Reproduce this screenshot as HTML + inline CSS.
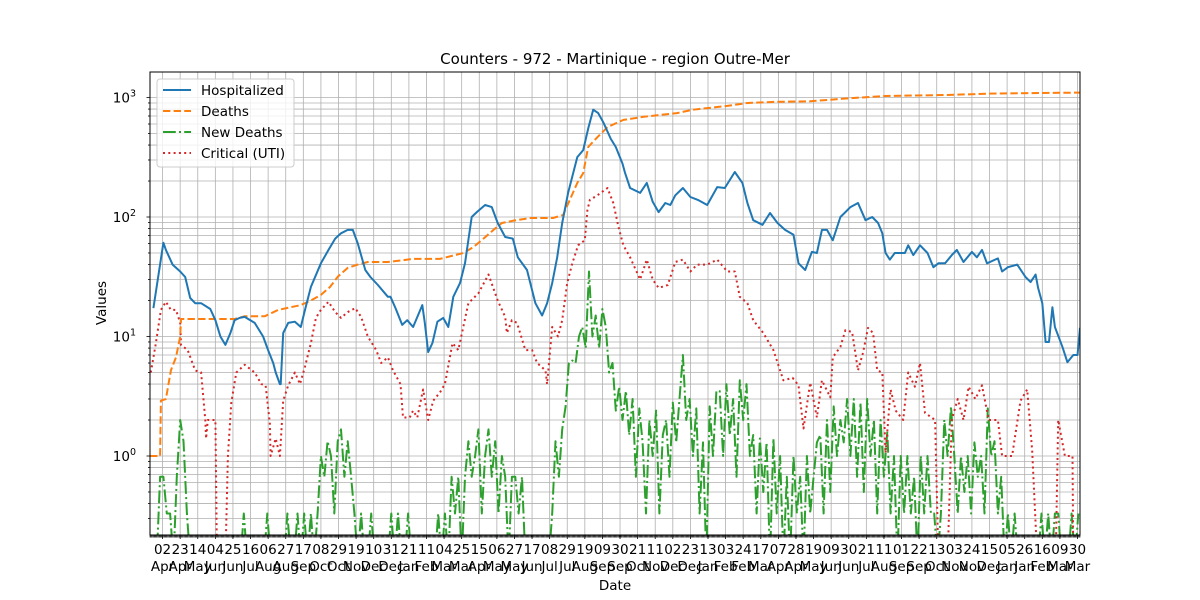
<!DOCTYPE html>
<html><head><meta charset="utf-8"><style>
body{margin:0;background:#fff;}
svg{display:block;font-family:"DejaVu Sans","Liberation Sans",sans-serif;}
</style></head><body>
<svg id="chart" width="1200" height="600" viewBox="0 0 1200 600" xmlns="http://www.w3.org/2000/svg">
<rect width="1200" height="600" fill="#fff"/>
<defs><clipPath id="pc"><rect x="150" y="72" width="930" height="463"/></clipPath></defs>
<g id="grid"></g>
<g id="series" clip-path="url(#pc)"></g>
<rect x="150" y="72" width="930" height="463" fill="none" stroke="#000" stroke-width="1"/>
<g id="axes"></g>
<text x="615" y="64" text-anchor="middle" font-size="15">Counters - 972 - Martinique - region Outre-Mer</text>
<text x="615" y="590" text-anchor="middle" font-size="13.5">Date</text>
<text x="106" y="303" text-anchor="middle" font-size="13.5" transform="rotate(-90 106 303)">Values</text>
<g>
<rect x="157" y="79" width="137" height="88" rx="3" fill="#fff" fill-opacity="0.8" stroke="#ccc"/>
<g><line x1="163" y1="90" x2="191" y2="90" stroke="#1f77b4" stroke-width="2"/><text x="201" y="95" font-size="13.5">Hospitalized</text></g>
<g><line x1="163" y1="111" x2="191" y2="111" stroke="#ff7f0e" stroke-width="2" stroke-dasharray="7.4,3.2"/><text x="201" y="116" font-size="13.5">Deaths</text></g>
<g><line x1="163" y1="132" x2="191" y2="132" stroke="#2ca02c" stroke-width="2" stroke-dasharray="12.8,3.2,2,3.2"/><text x="201" y="137" font-size="13.5">New Deaths</text></g>
<g><line x1="163" y1="153" x2="191" y2="153" stroke="#d62728" stroke-width="2" stroke-dasharray="2,3.3"/><text x="201" y="158" font-size="13.5">Critical (UTI)</text></g>
</g>
</svg>
<script>
// days since 2020-03-18
const hospDays=[4,16,19,27,36,42,48,54,61,72,78,84,90,96,101,107,113,125,135,141,147,150,155,156,159,165,173,180,185,192,204,213,221,228,236,242,248,257,263,272,284,287,293,301,307,314,325,328,332,337,343,350,356,362,370,376,384,390,400,408,415,424,433,439,450,460,468,474,480,486,492,499,510,517,523,529,535,541,550,556,564,567,573,585,593,600,607,615,621,627,636,645,654,665,677,686,698,707,713,720,731,740,749,758,768,774,782,790,796,802,808,815,824,830,836,845,854,862,869,874,878,883,889,901,905,911,919,928,935,941,949,957,963,971,981,987,993,999,1012,1017,1024,1035,1045,1051,1057,1060,1065,1069,1073,1077,1080,1089,1095,1102,1107,1110];
const hospVals=[17.3,61,53,40,35,31.5,21,19,19,17,13.7,10,8.5,10.7,13.7,14.3,14.6,13,10,7.7,6,5,4,4,10.7,13,13.3,12,16.7,26,41,53,66,73,78,78,60,36,31.5,27,21.5,21.5,17.3,12.5,13.7,12,18.3,13,7.4,8.8,13.3,14.3,12,21.5,28,41,100,110,126,121,89,68,66,46,36,19,15,19,28,46,89,159,317,363,550,790,740,620,450,385,280,233,175,159,193,134,110,131,126,152,175,147,139,126,178,175,238,193,131,94,86,108,89,78,71,41,36,51,50,78,78,64,100,110,121,131,94,100,89,73,50,44,50,50,58,48,58,50,38,41,41,48,53,42,51,46,53,41,45,35,38,40,31.5,28.5,33,25.5,19,9,9,17.6,12,8.2,6.1,7,7,11.8];
const deathDays=[0,12,13,19,25,31,36,37,101,113,137,153,168,180,192,204,215,224,236,248,260,284,314,346,374,386,398,410,420,433,454,481,493,501,510,517,523,534,546,565,589,629,648,689,713,749,788,830,878,949,1009,1110];
const deathVals=[1,1,2.9,3,5.2,6.7,10,14,14,14.8,14.8,16.7,17.6,18.3,20,22.3,26,31.6,37.5,40,42,42,44.6,44.6,50,56,66,78,89,93,98,98,104,139,193,233,385,465,565,650,690,740,790,850,900,920,930,980,1030,1050,1080,1100];
const critDays=[1,7,13,19,25,31,36,37,45,54,61,66,67,69,78,80,90,93,97,103,113,125,133,138,143,144,150,155,159,165,173,179,185,192,198,204,213,221,228,236,245,252,260,270,276,284,290,299,302,310,314,319,326,332,338,346,352,361,368,380,392,404,415,424,426,432,438,448,456,462,472,474,480,487,492,498,504,511,519,522,525,534,546,553,559,565,573,585,593,600,607,618,627,636,645,653,665,677,689,698,704,713,720,732,744,756,767,774,780,788,796,802,812,815,824,830,838,845,851,857,863,868,874,878,884,890,899,905,913,919,925,937,941,952,957,964,971,977,985,993,1001,1012,1017,1029,1039,1047,1053,1059,1081,1084,1092,1101,1102,1110];
const critVals=[5,8.8,16.7,19.5,16.7,16.7,13,8.5,7.7,5.2,5,2,1.4,2,2,0,0,1,2.8,5,5.8,5,4,3.9,1.9,1,1.4,1,2.9,3.9,5,4,5.6,8.8,14.3,16.7,19.5,16,14.3,16,17.3,14.6,10,7.7,6,6.7,5.2,4,2.1,2.1,2.4,2.1,3.6,2,2.9,3.4,4,8.8,7.7,19,23,33,20,14.6,10.7,13.7,13,7.7,7.7,6,5.2,4,12,10,13.7,28,41,58,64,114,139,152,175,131,83,58,46,30,44,30,25.5,27,42,44,35,40,40,44,35,35,21.5,19,13.7,10.7,7.7,4.3,4.5,3.9,1.7,4.1,2.1,4.3,3.1,6.7,8.2,11.3,10.9,5.2,7.3,11.8,10.7,5.2,5,1.06,3.6,2.4,2,5,3.8,6,2.3,2,0,0,2,3,2,3.8,3,3.9,2,2,1,1,2.9,3.6,1.1,0,0,2,1,1,0,0];
const newDeathStep=4;
const newDeathVals=[0,0,0,0.67,0.67,0.33,0.33,0,0.67,2,
1.33,0.33,0,0,0,0,0,0,0,0,
0,0,0,0,0,0,0,0,0.33,0,
0,0,0,0,0,0.33,0,0,0,0,
0,0.33,0,0,0.33,0,0.33,0,0.33,0,
0.33,1,0.67,1.33,1,0.33,1.33,1.67,0.67,1.33,
0.67,0.33,0,0.33,0,0,0.33,0,0,0,
0,0,0.33,0,0.33,0,0,0.33,0,0,
0,0,0,0,0,0,0.33,0,0.33,0,
0.67,0.33,0.67,0,0.67,1.33,0.67,1,1.67,0.33,
1,1.67,0.67,1.33,0.33,1,0.67,0,0.67,0.67,
0.33,0.67,0,0,0,0,0,0,0,0,
0.33,1.33,0.67,1.67,2.6,6,6.3,6,10,12,
8,35,10,15,8,17,12,5,6,2.4,
3.8,2,3.5,1.5,3,0.67,2.5,1.3,0.33,2,
1,2.4,0.33,1.5,2,0.67,2.8,1.3,3,7,
2,3,1,2.5,0.33,1.3,0,2.6,1,3.5,
3.5,1,4,1.5,3,0.67,4.3,2,4,1,
1.5,0.33,1.4,0.5,1.3,0,1.4,0.33,1,0,
0.67,0,1,0.33,0.67,0,1,0.33,0.67,1.3,
1.5,0.33,2,0.5,2.6,1,2,1.3,3,1,
3,0.67,2.8,0.5,3,1,2,0.33,2,0.67,
1.6,0.33,1,0,1,0.33,1,0.33,0.67,0,
1,0.33,1,0.33,0.33,0,0.33,2,1,2.6,
1,0.33,1,0.5,1,0.33,1.3,0.67,1,0.33,
2.5,1,1.33,0.33,0.67,0,0.33,0,0.33,0,
0,0,0,0,0,0,0.33,0,0.33,0,
0.33,0.33,0,0,0,0.33,0,0.33];
const yTickLabels=["10","10","10","10"];
const yTickExps=[0,1,2,3];
const tickStart="2020-04-02";
const tickStepDays=21;
const tickCount=53;
const monthNames=["Jan","Feb","Mar","Apr","May","Jun","Jul","Aug","Sep","Oct","Nov","Dec"];

const NS="http://www.w3.org/2000/svg";
const X0=150,X1=1080,DMAX=1110,Y0=456,DEC=119.5;
function xS(d){return X0+d*(X1-X0)/DMAX;}
function yS(v){return v<=0?560:Y0-DEC*Math.log10(v);}
function mk(tag,attrs,parent){const e=document.createElementNS(NS,tag);for(const k in attrs)e.setAttribute(k,attrs[k]);parent.appendChild(e);return e;}
const grid=document.getElementById('grid'),series=document.getElementById('series'),axes=document.getElementById('axes');
// horizontal grid (major+minor)
for(let e=-1;e<=3;e++){for(let m=1;m<=9;m++){const v=m*Math.pow(10,e);const y=yS(v);if(y<72||y>535)continue;
 const l=mk('line',{x1:X0,x2:X1,y1:y,y2:y,stroke:'#b0b0b0','stroke-width':0.8},grid);
 
 
 const t=mk('line',{x1:X0,x2:X0-(m===1?3.5:2),y1:y,y2:y,stroke:'#000','stroke-width':0.8},axes);
 
 
}}
yTickExps.forEach((ex,i)=>{const y=yS(Math.pow(10,ex));
 const t=mk('text',{x:136,y:y+5,'text-anchor':'end','font-size':13.5},axes);
 
 
 t.textContent=yTickLabels[i];
 const s=mk('tspan',{dy:-6,'font-size':9.5},t);s.textContent=String(ex);
});
// minor x ticks daily
for(let d=0;d<=DMAX;d++){const x=xS(d);const t=mk('line',{x1:x,x2:x,y1:535,y2:537.5,stroke:'#000','stroke-width':0.6},axes);
 
 }
const base=new Date("2020-03-18T00:00:00Z"),ts=new Date(tickStart+"T00:00:00Z");
for(let i=0;i<tickCount;i++){const dt=new Date(ts.getTime()+i*tickStepDays*86400000);const d=Math.round((dt-base)/86400000);const x=xS(d);
 const g=mk('line',{x1:x,x2:x,y1:72,y2:535,stroke:'#b0b0b0','stroke-width':0.8},grid);
 
 
 const t=mk('line',{x1:x,x2:x,y1:535,y2:539,stroke:'#000','stroke-width':0.8},axes);
 
 
 const a=mk('text',{x:x,y:554,'text-anchor':'middle','font-size':13.5},axes);
 
 
 a.textContent=String(dt.getUTCDate()).padStart(2,'0');
 const b=mk('text',{x:x,y:571,'text-anchor':'middle','font-size':13.5},axes);
 
 
 b.textContent=monthNames[dt.getUTCMonth()];
}
function line(days,vals,color,dash,name,w){const pts=days.map((d,i)=>xS(d).toFixed(1)+','+yS(vals[i]).toFixed(1)).join(' ');
 const p=mk('polyline',{points:pts,fill:'none',stroke:color,'stroke-width':w,'stroke-linejoin':'round'},series);
 if(dash)p.setAttribute('stroke-dasharray',dash);
 
 }
const ndDays=newDeathVals.map((v,i)=>i*newDeathStep);
line(ndDays,newDeathVals,'#2ca02c','12.8,3.2,2,3.2','new-deaths-line',2);
line(critDays,critVals,'#d62728','2,3.3','critical-line',2);
line(deathDays,deathVals,'#ff7f0e','7.4,3.2','deaths-line',2);
line(hospDays,hospVals,'#1f77b4',null,'hospitalized-line',2);
</script>
</body></html>
